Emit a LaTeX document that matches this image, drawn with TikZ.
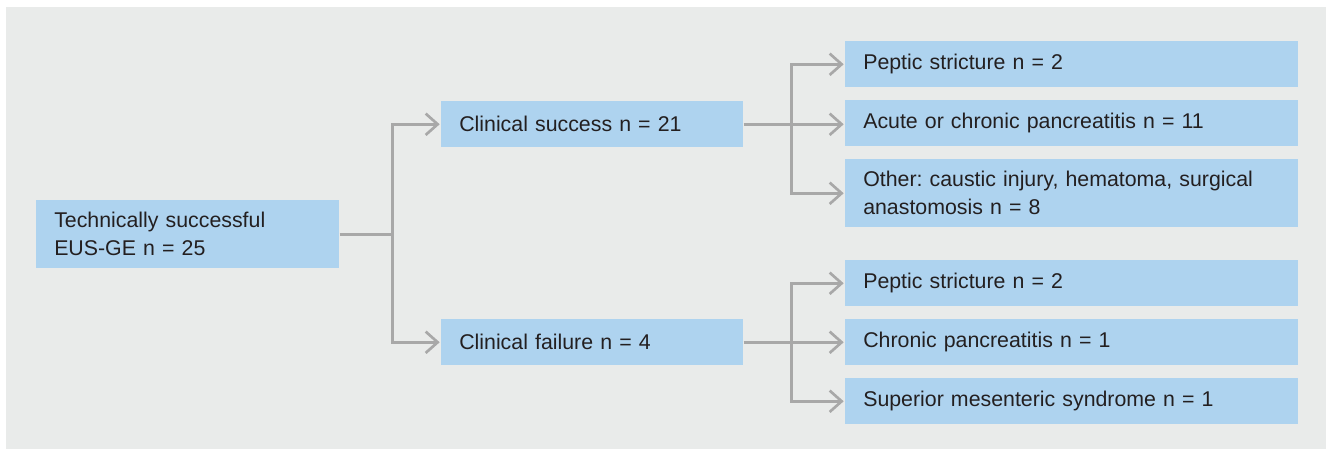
\documentclass[tikz,border=0pt]{standalone}
\usepackage{fontspec}
\setmainfont{Liberation Sans}
\usepackage{tikz}
\usetikzlibrary{arrows.meta,positioning}
\frenchspacing

\definecolor{boxblue}{RGB}{174,211,239}
\definecolor{panelgray}{RGB}{233,235,234}
\definecolor{linegray}{RGB}{168,168,168}
\definecolor{textdark}{RGB}{35,31,32}

\tikzset{
	fbox/.style={fill=boxblue, text=textdark, anchor=north west, align=left,
		inner xsep=18*0.75pt, inner ysep=0pt, font=\fontsize{16}{21}\selectfont},
	leftbox/.style={fbox, text width=266*0.75pt},
	rightbox/.style={fbox, text width=417*0.75pt},
	conn/.style={draw=linegray, line width=2pt},
	arr/.style={conn, -{Straight Barb[length=9pt, width=16pt, line width=2pt]}}
}

\begin{document}
\begin{tikzpicture}[x=0.75pt,y=-0.75pt]
		\useasboundingbox (0,0) rectangle (1332,451);
		\fill[panelgray] (6,7) rectangle (1326,449);
		\def\hs{34.5pt}% short box height
		% first column
		\node[fbox, text width=267*0.75pt, minimum height=68*0.75pt] (root) at (36,200) {Technically successful\\EUS-GE n = 25};
		% second column
		\node[leftbox, minimum height=\hs] (succ) at (441,101) {Clinical success n = 21};
		\node[leftbox, minimum height=\hs] (fail) at (441,319) {Clinical failure n = 4};
		% third column
		\node[rightbox, minimum height=\hs] (pepA) at (845,41) {Peptic stricture n = 2};
		\node[rightbox, minimum height=\hs] (acute) at (845,100) {Acute or chronic pancreatitis n = 11};
		\node[rightbox, minimum height=68*0.75pt] (other) at (845,159) {Other: caustic injury, hematoma, surgical\\anastomosis n = 8};
		\node[rightbox, minimum height=\hs] (pepB) at (845,260) {Peptic stricture n = 2};
		\node[rightbox, minimum height=\hs] (chron) at (845,319) {Chronic pancreatitis n = 1};
		\node[rightbox, minimum height=\hs] (sup) at (845,378) {Superior mesenteric syndrome n = 1};
		% branch points
		\coordinate (b0) at ([xshift=53*0.75pt]root.east);
		\coordinate (b1) at ([xshift=48*0.75pt]succ.east);
		\coordinate (b2) at ([xshift=48*0.75pt]fail.east);
		\draw[conn] (root.east) -- (b0);
		\draw[arr] (b0) |- ([xshift=-1pt]succ.west);
		\draw[arr] (b0) |- ([xshift=-1pt]fail.west);
		\draw[conn] (succ.east) -- (b1);
		\draw[arr] (b1) |- ([xshift=-1pt]pepA.west);
		\draw[arr] (b1) -- ([xshift=-1pt]b1 -| acute.west);
		\draw[arr] (b1) |- ([xshift=-1pt]other.west);
		\draw[conn] (fail.east) -- (b2);
		\draw[arr] (b2) |- ([xshift=-1pt]pepB.west);
		\draw[arr] (b2) -- ([xshift=-1pt]b2 -| chron.west);
		\draw[arr] (b2) |- ([xshift=-1pt]sup.west);
	\end{tikzpicture}
\end{document}
